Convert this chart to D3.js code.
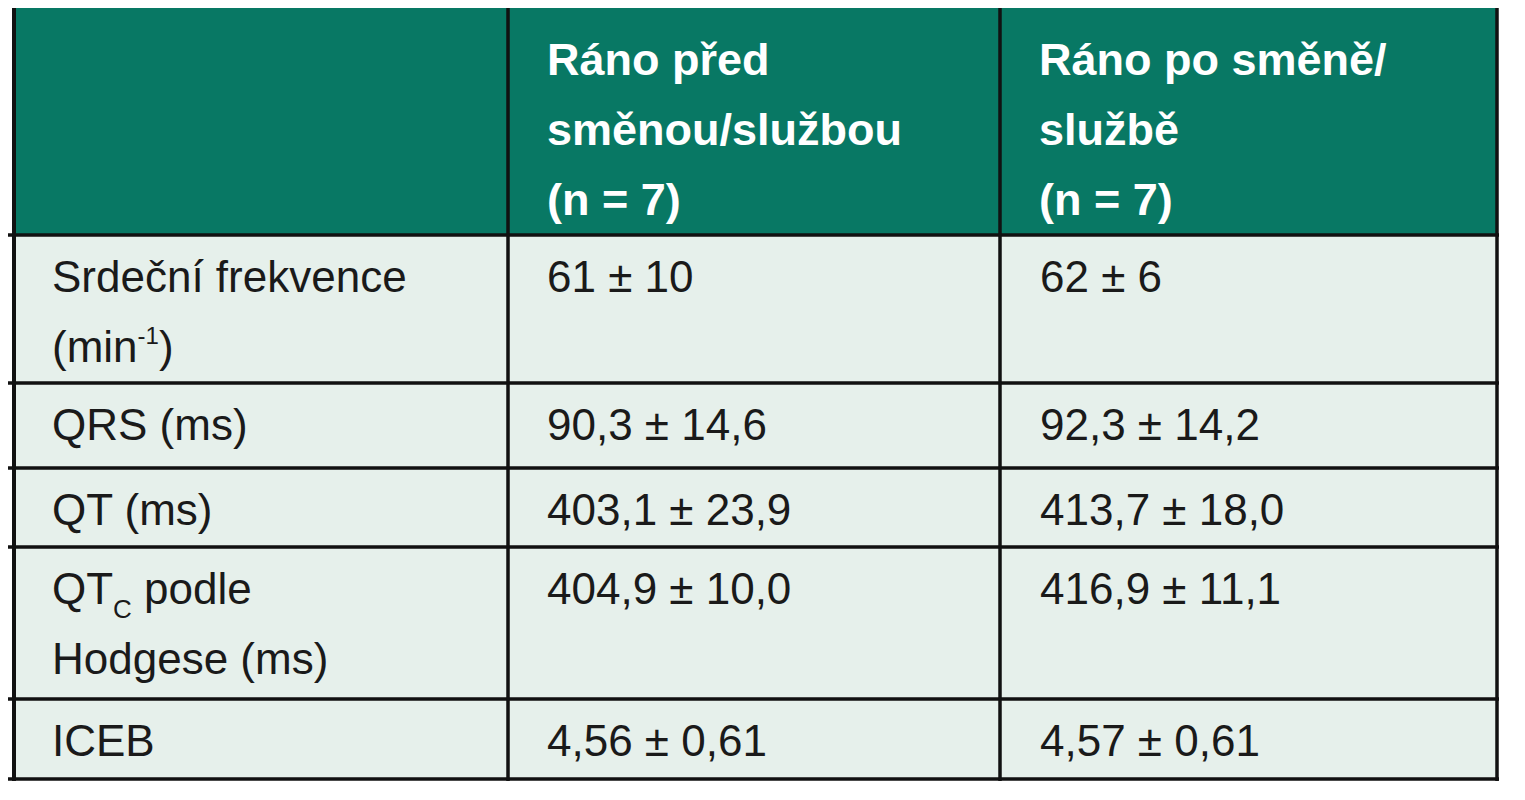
<!DOCTYPE html>
<html><head><meta charset="utf-8">
<script src="https://cdn.jsdelivr.net/npm/d3@7"></script>
<style>body{margin:0;background:#fff}</style></head>
<body><svg id="c" width="1525" height="800"></svg>
<script>
const headers = [[""], ["Ráno před","směnou/službou","(n = 7)"], ["Ráno po směně/","službě","(n = 7)"]];
const rowLabels = [
  [[{t:"Srdeční frekvence"}],[{t:"(min"},{t:"-1",sup:true},{t:")"}]],
  [[{t:"QRS (ms)"}]],
  [[{t:"QT (ms)"}]],
  [[{t:"QT"},{t:"C",sub:true},{t:" podle"}],[{t:"Hodgese (ms)"}]],
  [[{t:"ICEB"}]]
];
const before = ["61 ± 10","90,3 ± 14,6","403,1 ± 23,9","404,9 ± 10,0","4,56 ± 0,61"];
const after = ["62 ± 6","92,3 ± 14,2","413,7 ± 18,0","416,9 ± 11,1","4,57 ± 0,61"];

const svg = d3.select("#c");
const colX = [14, 508, 1000, 1497];
const rowY = [8, 235, 383, 468, 547, 699, 779];
const font = "'Liberation Sans', Arial, sans-serif";
const fs = 44, lh = 70;

svg.append("rect").attr("x",colX[0]).attr("y",rowY[0]).attr("width",colX[3]-colX[0]).attr("height",rowY[1]-rowY[0]).attr("fill","#087864");
svg.append("rect").attr("x",colX[0]).attr("y",rowY[1]).attr("width",colX[3]-colX[0]).attr("height",rowY[6]-rowY[1]).attr("fill","#e6f0eb");

function txt(x,y,s,opts){
  return svg.append("text").attr("x",x).attr("y",y).attr("font-family",font).attr("font-size",fs)
    .attr("fill",opts.fill).attr("font-weight",opts.bold?"bold":"normal").text(s);
}
headers.forEach((lines,ci)=>lines.forEach((l,li)=>{
  if(l) txt(colX[ci]+39, 75+li*lh, l, {fill:"#fff", bold:true}).attr("font-size",45);
}));
rowLabels.forEach((lines,ri)=>{
  lines.forEach((parts,li)=>{
    const t = svg.append("text").attr("x",52).attr("y",rowY[ri+1]+57+li*lh)
      .attr("font-family",font).attr("font-size",fs).attr("fill","#1a1a1a");
    parts.forEach(p=>{
      const ts=t.append("tspan").text(p.t);
      if(p.sup) ts.attr("font-size",24).attr("dy",-18);
      else if(p.sub) ts.attr("font-size",26).attr("dy",14);
      else if(ts.node().previousSibling && parts.indexOf(p)>0 && (parts[parts.indexOf(p)-1].sup)) ts.attr("dy",18);
      else if(parts.indexOf(p)>0 && parts[parts.indexOf(p)-1].sub) ts.attr("dy",-14);
    });
  });
  txt(547, rowY[ri+1]+57, before[ri], {fill:"#1a1a1a"});
  txt(1040, rowY[ri+1]+57, after[ri], {fill:"#1a1a1a"});
});
const lc="#111";
rowY.forEach((y,i)=>svg.append("line").attr("x1", i===0?colX[0]:8).attr("x2",colX[3]+2).attr("y1",y).attr("y2",y).attr("stroke",lc).attr("stroke-width",i===0?0:3.5));
colX.forEach((x,i)=>svg.append("line").attr("x1",x).attr("x2",x).attr("y1",rowY[0]).attr("y2",rowY[6]+2).attr("stroke",lc).attr("stroke-width",i===0?4:3.5));
</script></body></html>
